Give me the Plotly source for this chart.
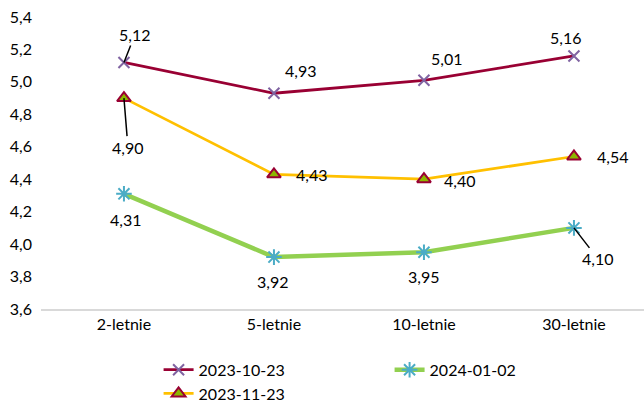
import plotly.graph_objects as go

categories = ["2-letnie", "5-letnie", "10-letnie", "30-letnie"]
s1_name = "2023-10-23"
s1_values = [5.12, 4.93, 5.01, 5.16]
s2_name = "2023-11-23"
s2_values = [4.90, 4.43, 4.40, 4.54]
s3_name = "2024-01-02"
s3_values = [4.31, 3.92, 3.95, 4.10]
y_ticks = [3.6, 3.8, 4.0, 4.2, 4.4, 4.6, 4.8, 5.0, 5.2, 5.4]

FONT = "Lato"
fig = go.Figure()

fig.add_trace(go.Scatter(
    x=categories, y=s1_values, name=s1_name, mode="lines+markers",
    line=dict(color="#990033", width=2.75),
    marker=dict(symbol="x-thin-open", size=11, color="#8064A2",
                line=dict(color="#8064A2", width=2)),
    legendrank=1,
))
fig.add_trace(go.Scatter(
    x=categories, y=s2_values, name=s2_name, mode="lines+markers",
    line=dict(color="#FFC000", width=2.75),
    marker=dict(symbol="triangle-up", size=12, color="#8DB600",
                line=dict(color="#990033", width=2)),
    legendrank=3,
))
fig.add_trace(go.Scatter(
    x=categories, y=s3_values, name=s3_name, mode="lines+markers",
    line=dict(color="#92D050", width=4.5),
    marker=dict(symbol="asterisk-open", size=13, color="#4BACC6",
                line=dict(color="#4BACC6", width=2)),
    legendrank=2,
))

def fmt(v):
    return f"{v:.2f}".replace(".", ",")

# label offsets (pixels) relative to each point; arrow=True draws a leader line
offsets = {
    (0, 0): (11, -28, True),
    (0, 1): (27, -23, False),
    (0, 2): (23, -22, False),
    (0, 3): (-8, -18, False),
    (1, 0): (4, 49, True),
    (1, 1): (38, 0, False),
    (1, 2): (36, 1, False),
    (1, 3): (39, 0, False),
    (2, 0): (2, 26, False),
    (2, 1): (-1, 24, False),
    (2, 2): (0, 24, False),
    (2, 3): (24, 31, True),
}
series = [s1_values, s2_values, s3_values]
for si, vals in enumerate(series):
    for ci, v in enumerate(vals):
        dx, dy, arrow = offsets[(si, ci)]
        if arrow:
            fig.add_annotation(x=categories[ci], y=v, text=fmt(v), showarrow=True,
                               ax=dx, ay=dy, arrowhead=0, arrowwidth=1.5,
                               arrowcolor="black", standoff=0,
                               font=dict(family=FONT, size=16, color="black"))
        else:
            fig.add_annotation(x=categories[ci], y=v, text=fmt(v), showarrow=False,
                               xshift=dx, yshift=-dy,
                               font=dict(family=FONT, size=16, color="black"))

fig.update_layout(
    width=644, height=403,
    margin=dict(l=41, r=0, t=17, b=94, autoexpand=False),
    paper_bgcolor="white", plot_bgcolor="white",
    separators=", ",
    font=dict(family=FONT, size=16, color="black"),
    showlegend=True,
    legend=dict(orientation="h", x=0.195, xanchor="left", y=-0.15, yanchor="top",
                entrywidth=186, entrywidthmode="pixels", tracegroupgap=0,
                font=dict(family=FONT, size=16, color="black"),
                itemsizing="trace"),
    xaxis=dict(range=[-0.553, 3.467], showgrid=False, showline=True,
               linecolor="#D9D9D9", linewidth=1.5, ticks="", zeroline=False,
               tickfont=dict(family=FONT, size=16)),
    yaxis=dict(range=[3.6, 5.4], tickvals=y_ticks, tickformat=".1f",
               showgrid=False, showline=False, zeroline=False, ticks="",
               ticklabelstandoff=8, tickfont=dict(family=FONT, size=16)),
)

fig.write_html("out.html")
